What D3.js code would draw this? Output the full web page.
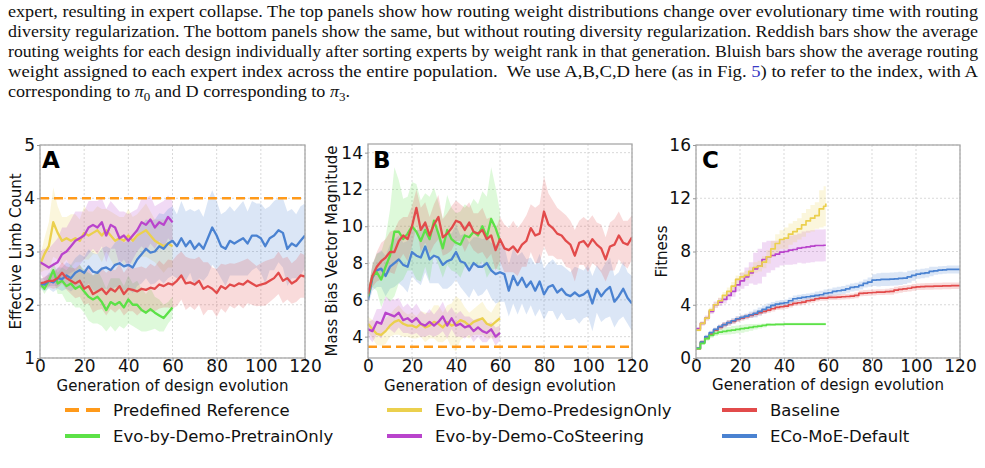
<!DOCTYPE html>
<html>
<head>
<meta charset="utf-8">
<script src="https://cdn.jsdelivr.net/npm/d3@7"></script>
<style>
  body { margin: 0; background: #fff; }
  svg { display: block; }
  .cap { white-space: pre; }
</style>
</head>
<body>
<svg id="fig" width="985" height="468"></svg>
<script>
// caption text above the figure, split in pieces so the link / subscripts can be styled
const captionLines = [
  [['expert, resulting in expert collapse. The top panels show how routing weight distributions change over evolutionary time with routing']],
  [['diversity regularization. The bottom panels show the same, but without routing diversity regularization. Reddish bars show the average']],
  [['routing weights for each design individually after sorting experts by weight rank in that generation. Bluish bars show the average routing']],
  [['weight assigned to each expert index across the entire population.  We use A,B,C,D here (as in Fig. '], ['5', 'link'], [') to refer to the index, with A']],
  [['corresponding to '], ['π', 'it'], ['0', 'sub'], [' and D corresponding to '], ['π', 'it'], ['3', 'sub'], ['.']]
]

const xTicks = [0, 20, 40, 60, 80, 100, 120]
const limbTicks = [1, 2, 3, 4, 5]
const massTicks = [4, 6, 8, 10, 12, 14]
const fitTicks = [0, 4, 8, 12, 16]
const genStep = 2

const legendNames = ['Predefined Reference', 'Evo-by-Demo-PretrainOnly', 'Evo-by-Demo-PredesignOnly',
  'Evo-by-Demo-CoSteering', 'Baseline', 'ECo-MoE-Default']
const colReference = '#ff9a1a'
const colPretrain = '#5ce147'
const colPredesign = '#ebd04e'
const colCoSteer = '#b944cc'
const colBaseline = '#e24b4b'
const colDefault = '#4a82d1'
const legendColors = [colReference, colPretrain, colPredesign, colCoSteer, colBaseline, colDefault]

// ---- panel A: effective limb count (values every 2 generations)
const limbReference = 4.0
const limbPredesign = [2.75, 2.95, 3.1, 3.55, 3.35, 3.2, 3.25, 3.2, 3.25, 3.2,
  3.35, 3.3, 3.35, 3.4, 3.3, 3.4, 3.3, 3.2, 3.25, 3.2,
  3.3, 3.2, 3.3, 3.35, 3.4, 3.3, 3.2, 3.15, 3.1, 3.15, 3.1]
const limbPredesignSd = [0.15, 0.3, 0.45, 0.65, 0.5, 0.45, 0.4, 0.5, 0.45, 0.4,
  0.5, 0.45, 0.4, 0.45, 0.5, 0.4, 0.45, 0.5, 0.4, 0.45,
  0.5, 0.45, 0.4, 0.45, 0.5, 0.45, 0.4, 0.45, 0.5, 0.45, 0.4]
const limbCoSteer = [2.8, 2.75, 2.7, 2.75, 2.8, 2.95, 3.0, 3.1, 3.2, 3.25,
  3.3, 3.45, 3.5, 3.45, 3.55, 3.3, 3.5, 3.45, 3.25, 3.3,
  3.2, 3.3, 3.4, 3.55, 3.5, 3.6, 3.45, 3.55, 3.5, 3.65, 3.55]
const limbCoSteerSd = [0.2, 0.3, 0.35, 0.4, 0.45, 0.5, 0.45, 0.5, 0.55, 0.5,
  0.45, 0.5, 0.45, 0.5, 0.45, 0.5, 0.45, 0.4, 0.5, 0.45,
  0.5, 0.45, 0.4, 0.45, 0.5, 0.45, 0.4, 0.35, 0.45, 0.4, 0.4]
const limbPretrain = [2.4, 2.3, 2.45, 2.65, 2.4, 2.45, 2.35, 2.4, 2.3, 2.35,
  2.25, 2.15, 2.1, 2.15, 2.05, 1.9, 2.05, 2.0, 2.05, 1.95,
  2.1, 2.0, 2.0, 1.9, 1.85, 1.92, 1.85, 1.8, 1.75, 1.85, 1.95]
const limbPretrainSd = [0.05, 0.1, 0.12, 0.15, 0.2, 0.25, 0.3, 0.35, 0.35, 0.4,
  0.4, 0.45, 0.45, 0.5, 0.45, 0.4, 0.45, 0.5, 0.45, 0.4,
  0.45, 0.4, 0.45, 0.4, 0.35, 0.4, 0.3, 0.3, 0.25, 0.2, 0.2]
const limbDefault = [2.4, 2.38, 2.45, 2.42, 2.5, 2.48, 2.55, 2.5, 2.6, 2.65,
  2.6, 2.72, 2.62, 2.6, 2.68, 2.7, 2.65, 2.75, 2.78, 2.72,
  2.75, 2.7, 2.85, 2.95, 3.05, 2.98, 3.0, 3.1, 3.05, 3.15,
  3.2, 3.1, 3.25, 3.1, 3.2, 3.05, 3.15, 3.05, 3.25, 3.45,
  3.3, 3.1, 3.05, 3.2, 3.15, 3.2, 3.25, 3.15, 3.3, 3.3,
  3.25, 3.1, 3.25, 3.3, 3.4, 3.35, 3.05, 3.15, 3.1, 3.2, 3.3]
const limbDefaultSd = [0.1, 0.12, 0.15, 0.18, 0.2, 0.22, 0.25, 0.25, 0.28, 0.3,
  0.3, 0.32, 0.35, 0.35, 0.38, 0.4, 0.4, 0.42, 0.45, 0.45,
  0.45, 0.48, 0.5, 0.55, 0.55, 0.6, 0.6, 0.62, 0.65, 0.65,
  0.65, 0.6, 0.7, 0.65, 0.6, 0.7, 0.65, 0.6, 0.7, 0.7,
  0.65, 0.6, 0.7, 0.65, 0.6, 0.65, 0.7, 0.6, 0.65, 0.6,
  0.65, 0.7, 0.6, 0.65, 0.6, 0.65, 0.7, 0.65, 0.6, 0.65, 0.6]
const limbBaseline = [2.4, 2.42, 2.45, 2.45, 2.5, 2.6, 2.5, 2.45, 2.4, 2.45,
  2.3, 2.35, 2.2, 2.25, 2.3, 2.2, 2.3, 2.25, 2.35, 2.2,
  2.3, 2.28, 2.25, 2.3, 2.28, 2.32, 2.3, 2.38, 2.35, 2.4,
  2.38, 2.45, 2.55, 2.4, 2.42, 2.38, 2.45, 2.3, 2.35, 2.3,
  2.22, 2.35, 2.3, 2.38, 2.35, 2.4, 2.38, 2.45, 2.4, 2.35,
  2.38, 2.4, 2.45, 2.5, 2.6, 2.45, 2.5, 2.4, 2.45, 2.55, 2.53]
const limbBaselineSd = [0.08, 0.1, 0.12, 0.15, 0.18, 0.2, 0.22, 0.25, 0.28, 0.3,
  0.3, 0.32, 0.35, 0.35, 0.38, 0.4, 0.38, 0.4, 0.42, 0.4,
  0.42, 0.4, 0.45, 0.42, 0.4, 0.45, 0.42, 0.45, 0.4, 0.45,
  0.45, 0.48, 0.45, 0.5, 0.45, 0.48, 0.45, 0.5, 0.45, 0.4,
  0.45, 0.42, 0.45, 0.4, 0.42, 0.4, 0.45, 0.42, 0.4, 0.38,
  0.4, 0.42, 0.4, 0.38, 0.4, 0.42, 0.4, 0.38, 0.4, 0.42, 0.4]

// ---- panel B: mass bias vector magnitude
const massReference = 3.45
const massPredesign = [4.7, 4.4, 4.15, 4.1, 4.3, 4.6, 4.8, 4.9, 4.7, 4.6,
  4.6, 4.5, 4.7, 4.5, 4.6, 4.8, 4.7, 4.5, 4.8, 4.6,
  4.7, 4.9, 4.8, 4.6, 4.8, 4.9, 5.0, 4.7, 4.6, 4.8, 5.0]
const massPredesignSd = [0.4, 0.5, 0.6, 0.6, 0.7, 0.6, 0.7, 0.8, 0.7, 0.6,
  0.7, 0.6, 0.7, 0.8, 0.7, 0.9, 1.0, 0.8, 0.9, 1.2,
  1.5, 1.1, 0.8, 0.7, 0.7, 0.8, 0.9, 0.8, 0.7, 0.9, 1.0]
const massCoSteer = [4.4, 4.3, 4.8, 4.7, 5.3, 5.2, 5.1, 5.3, 4.9, 5.0,
  4.8, 5.0, 4.7, 4.6, 4.8, 4.6, 4.8, 5.1, 4.6, 5.0,
  4.6, 4.7, 4.5, 4.6, 4.3, 4.5, 4.3, 4.2, 4.4, 4.0, 4.2]
const massCoSteerSd = [0.4, 0.6, 0.7, 0.8, 0.9, 0.8, 0.9, 0.8, 0.7, 0.8,
  0.7, 0.8, 0.7, 0.6, 0.7, 0.6, 0.7, 0.8, 0.7, 0.6,
  0.6, 0.7, 0.6, 0.5, 0.6, 0.5, 0.6, 0.5, 0.4, 0.5, 0.4]
const massPretrain = [6.2, 7.3, 7.5, 7.1, 7.8, 8.4, 9.7, 9.7, 9.3, 9.6,
  10.0, 9.7, 9.2, 9.8, 9.3, 10.3, 9.6, 8.8, 9.8, 9.3,
  9.1, 9.0, 9.5, 9.4, 9.7, 9.5, 10.0, 9.4, 10.4, 9.9, 9.2]
const massPretrainSd = [0.3, 0.6, 1.0, 1.5, 1.6, 2.5, 3.5, 2.8, 2.2, 2.0,
  2.4, 2.6, 2.2, 2.0, 2.3, 1.8, 1.7, 1.6, 1.9, 1.7,
  1.6, 1.8, 1.7, 1.6, 1.8, 1.7, 1.9, 2.2, 2.8, 2.2, 1.6]
const massDefault = [6.0, 7.2, 7.6, 7.7, 7.3, 7.8, 8.0, 8.2, 7.9, 7.8,
  8.6, 8.4, 8.3, 8.9, 8.2, 8.4, 8.3, 7.9, 8.1, 8.2,
  8.6, 8.1, 8.0, 7.6, 8.0, 7.8, 7.8, 8.0, 7.6, 7.4,
  7.5, 7.4, 6.5, 7.3, 6.8, 7.2, 6.7, 7.0, 6.5, 7.0,
  6.3, 6.7, 6.8, 6.4, 6.6, 6.3, 6.2, 6.4, 6.2, 6.3,
  6.5, 5.8, 6.6, 6.2, 6.5, 6.7, 5.9, 6.2, 6.6, 6.1, 5.8]
const massDefaultSd = [0.3, 0.7, 0.9, 1.0, 1.1, 1.2, 1.3, 1.3, 1.2, 1.4,
  1.3, 1.4, 1.5, 1.4, 1.3, 1.5, 1.4, 1.3, 1.5, 1.4,
  1.5, 1.4, 1.6, 1.5, 1.4, 1.6, 1.5, 1.4, 1.5, 1.6,
  1.6, 1.5, 1.4, 1.5, 1.6, 1.4, 1.5, 1.3, 1.4, 1.5,
  1.4, 1.3, 1.4, 1.5, 1.3, 1.4, 1.3, 1.4, 1.5, 1.3,
  1.4, 1.5, 1.3, 1.4, 1.5, 1.6, 1.4, 1.3, 1.5, 1.4, 1.5]
const massBaseline = [6.3, 7.3, 7.8, 8.1, 8.3, 8.6, 8.6, 9.2, 9.5, 9.3,
  10.0, 11.0, 9.8, 10.2, 9.5, 10.1, 10.5, 9.4, 9.6, 9.9,
  10.3, 10.2, 9.8, 10.2, 9.7, 9.6, 9.8, 9.3, 9.5, 8.7,
  9.3, 8.8, 8.7, 8.9, 8.6, 9.0, 9.2, 9.9, 9.5, 9.6,
  10.8, 10.1, 9.9, 9.6, 9.5, 9.2, 9.0, 8.4, 9.1, 9.2,
  8.9, 9.3, 9.0, 8.8, 8.2, 8.9, 9.0, 9.5, 9.1, 9.0, 9.4]
const massBaselineSd = [0.3, 0.6, 0.8, 1.0, 1.0, 1.1, 1.2, 1.1, 1.0, 1.2,
  1.1, 1.0, 1.2, 1.1, 1.0, 1.1, 1.2, 1.0, 1.1, 1.2,
  1.1, 1.0, 1.2, 1.1, 1.0, 1.1, 1.2, 1.1, 1.0, 1.1,
  1.2, 1.3, 1.2, 1.4, 1.3, 1.2, 1.4, 1.3, 1.5, 1.6,
  1.9, 1.7, 1.5, 1.4, 1.3, 1.4, 1.3, 1.4, 1.2, 1.3,
  1.4, 1.3, 1.2, 1.3, 1.2, 1.3, 1.4, 1.3, 1.2, 1.3, 1.2]

// ---- panel C: fitness (best so far, step curves)
const fitPredesign = [2.1, 2.6, 3.0, 3.6, 4.0, 4.3, 4.7, 5.0, 5.4, 5.9,
  6.1, 6.2, 6.5, 6.8, 6.9, 7.2, 7.6, 8.2, 8.6, 8.9,
  9.0, 9.3, 9.5, 9.7, 10.0, 10.3, 10.5, 10.7, 11.2, 11.4, 11.6]
const fitPredesignSd = [0.1, 0.15, 0.15, 0.2, 0.2, 0.25, 0.25, 0.3, 0.3, 0.3,
  0.35, 0.35, 0.35, 0.4, 0.4, 0.45, 0.5, 0.6, 0.7, 0.7,
  0.8, 0.8, 0.8, 0.8, 0.9, 0.9, 1.0, 1.0, 1.4, 1.5, 1.4]
const fitCoSteer = [2.2, 2.6, 3.0, 3.5, 4.0, 4.2, 4.4, 4.7, 5.0, 5.5,
  5.8, 6.1, 6.4, 6.7, 6.9, 7.4, 7.6, 7.7, 7.8, 7.95,
  8.0, 8.1, 8.15, 8.25, 8.3, 8.35, 8.4, 8.45, 8.45, 8.47, 8.47]
const fitCoSteerSd = [0.1, 0.15, 0.2, 0.2, 0.25, 0.3, 0.3, 0.35, 0.4, 0.5,
  0.6, 0.7, 0.8, 1.2, 1.3, 1.3, 1.2, 1.1, 1.0, 1.0,
  1.0, 1.1, 1.1, 1.1, 1.2, 1.2, 1.2, 1.2, 1.2, 1.2, 1.2]
const fitPretrain = [0.7, 1.1, 1.45, 1.7, 1.85, 1.95, 2.0, 2.05, 2.1, 2.15,
  2.2, 2.25, 2.3, 2.35, 2.4, 2.45, 2.5, 2.5, 2.52, 2.53,
  2.55, 2.55, 2.55, 2.55, 2.55, 2.55, 2.55, 2.55, 2.55, 2.55, 2.55]
const fitPretrainSd = [0.1, 0.12, 0.15, 0.18, 0.2, 0.22, 0.25, 0.28, 0.3, 0.3,
  0.3, 0.28, 0.25, 0.2, 0.18, 0.15, 0.12, 0.1, 0.1, 0.1,
  0.1, 0.1, 0.1, 0.1, 0.1, 0.1, 0.1, 0.1, 0.1, 0.1, 0.1]
const fitDefault = [0.75, 1.2, 1.6, 1.9, 2.15, 2.35, 2.5, 2.65, 2.8, 2.95,
  3.05, 3.15, 3.25, 3.35, 3.5, 3.65, 3.8, 3.95, 4.05, 4.1,
  4.15, 4.3, 4.45, 4.5, 4.55, 4.6, 4.65, 4.7, 4.75, 4.85,
  4.9, 5.0, 5.05, 5.1, 5.2, 5.3, 5.35, 5.45, 5.6, 5.7,
  5.85, 5.87, 5.9, 5.9, 5.92, 5.95, 5.98, 6.0, 6.1, 6.2,
  6.3, 6.35, 6.4, 6.5, 6.55, 6.6, 6.62, 6.65, 6.65, 6.65, 6.65]
const fitDefaultSd = [0.1, 0.12, 0.15, 0.15, 0.15, 0.15, 0.2, 0.2, 0.2, 0.2,
  0.2, 0.2, 0.25, 0.3, 0.3, 0.3, 0.3, 0.25, 0.25, 0.25,
  0.25, 0.25, 0.25, 0.25, 0.25, 0.25, 0.25, 0.3, 0.3, 0.3,
  0.3, 0.3, 0.3, 0.3, 0.3, 0.3, 0.3, 0.3, 0.3, 0.35,
  0.45, 0.5, 0.5, 0.5, 0.5, 0.5, 0.5, 0.45, 0.45, 0.4,
  0.35, 0.35, 0.35, 0.35, 0.3, 0.3, 0.3, 0.3, 0.3, 0.3, 0.3]
const fitBaseline = [0.7, 1.2, 1.5, 1.8, 2.1, 2.3, 2.5, 2.65, 2.75, 2.9,
  3.0, 3.1, 3.2, 3.3, 3.4, 3.5, 3.6, 3.7, 3.8, 3.85,
  3.9, 4.0, 4.1, 4.15, 4.2, 4.3, 4.35, 4.45, 4.5, 4.5,
  4.55, 4.55, 4.58, 4.6, 4.62, 4.65, 4.7, 4.85, 4.88, 4.9,
  4.92, 4.95, 4.95, 4.98, 5.0, 5.1, 5.16, 5.2, 5.24, 5.3,
  5.35, 5.36, 5.38, 5.38, 5.4, 5.4, 5.42, 5.42, 5.43, 5.43, 5.45]
const fitBaselineSd = [0.1, 0.15, 0.15, 0.15, 0.15, 0.2, 0.2, 0.2, 0.2, 0.2,
  0.2, 0.2, 0.2, 0.2, 0.2, 0.2, 0.2, 0.2, 0.2, 0.2,
  0.2, 0.2, 0.2, 0.2, 0.2, 0.2, 0.2, 0.2, 0.2, 0.2,
  0.2, 0.2, 0.2, 0.2, 0.2, 0.2, 0.22, 0.22, 0.22, 0.22,
  0.22, 0.22, 0.22, 0.22, 0.25, 0.25, 0.25, 0.25, 0.25, 0.25,
  0.25, 0.25, 0.25, 0.25, 0.25, 0.25, 0.25, 0.25, 0.25, 0.25, 0.25]

const svg = d3.select('#fig')
const tickFont = 17
const labelFont = 15

drawCaption()

drawPanel({
  id: 'A', left: 40, right: 305, top: 145, bottom: 358, domain: [1, 5], ticks: limbTicks,
  label: 'Effective Limb Count', labelX: 16, letterX: 42, xLabelY: 391,
  reference: limbReference, stepped: false, width: 2.3, end: 60,
  series: [
    [limbPredesign, limbPredesignSd, colPredesign],
    [limbCoSteer, limbCoSteerSd, colCoSteer],
    [limbPretrain, limbPretrainSd, colPretrain],
    [limbDefault, limbDefaultSd, colDefault],
    [limbBaseline, limbBaselineSd, colBaseline]
  ]
})

drawPanel({
  id: 'B', left: 368, right: 632, top: 144, bottom: 358, domain: [2.84, 14.47], ticks: massTicks,
  label: 'Mass Bias Vector Magnitude', labelX: 332, letterX: 373, xLabelY: 391,
  reference: massReference, stepped: false, width: 2.3, end: 60,
  series: [
    [massPredesign, massPredesignSd, colPredesign],
    [massCoSteer, massCoSteerSd, colCoSteer],
    [massDefault, massDefaultSd, colDefault],
    [massPretrain, massPretrainSd, colPretrain],
    [massBaseline, massBaselineSd, colBaseline]
  ]
})

drawPanel({
  id: 'C', left: 696, right: 960, top: 145, bottom: 358, domain: [0, 16], ticks: fitTicks,
  label: 'Fitness', labelX: 662, letterX: 702, xLabelY: 390,
  reference: null, stepped: true, width: 1.7, end: 59,
  series: [
    [fitBaseline, fitBaselineSd, colBaseline],
    [fitDefault, fitDefaultSd, colDefault],
    [fitPretrain, fitPretrainSd, colPretrain],
    [fitCoSteer, fitCoSteerSd, colCoSteer],
    [fitPredesign, fitPredesignSd, colPredesign]
  ]
})

drawLegend()

function drawCaption() {
  const g = svg.append('g')
    .attr('font-family', '"Liberation Serif", "Times New Roman", serif')
    .attr('font-size', 16.7)
    .attr('fill', '#111')

  const texts = captionLines.map((pieces, i) => {
    const t = g.append('text')
      .attr('class', 'cap')
      .attr('x', 8)
      .attr('y', 17 + i * 20)
    pieces.forEach(([str, kind], j) => {
      const prev = j > 0 ? pieces[j - 1][1] : null
      const sp = t.append('tspan').text(str)
      if (kind === 'link') sp.attr('fill', '#3a3ac4')
      if (kind === 'it') sp.attr('font-style', 'italic')
      if (kind === 'sub') sp.attr('font-size', 12).attr('dy', 3.5)
      if (prev === 'sub') sp.attr('dy', -3.5)
    })
    return t
  })

  // justify the full lines, squeeze the last one by the same average amount
  const widths = texts.map(t => t.node().getComputedTextLength())
  const ratio = d3.mean(widths.slice(0, 4), w => 970 / w)
  texts.forEach((t, i) => {
    const len = i < 4 ? 970 : widths[i] * ratio
    t.attr('textLength', len).attr('lengthAdjust', 'spacingAndGlyphs')
  })
}

function drawPanel(p) {
  const x = d3.scaleLinear().domain([0, 120]).range([p.left, p.right])
  const y = d3.scaleLinear().domain(p.domain).range([p.bottom, p.top])
  const g = svg.append('g')

  g.append('clipPath')
    .attr('id', 'clip' + p.id)
    .append('rect')
    .attr('x', p.left)
    .attr('y', p.top)
    .attr('width', p.right - p.left)
    .attr('height', p.bottom - p.top)

  // dotted grid
  g.selectAll('.vgrid')
    .data(xTicks)
    .join('line')
    .attr('x1', d => x(d)).attr('x2', d => x(d))
    .attr('y1', p.top).attr('y2', p.bottom)
    .attr('stroke', '#cfcfcf').attr('stroke-width', 0.8).attr('stroke-dasharray', '2,2')
  g.selectAll('.hgrid')
    .data(p.ticks)
    .join('line')
    .attr('x1', p.left).attr('x2', p.right)
    .attr('y1', d => y(d)).attr('y2', d => y(d))
    .attr('stroke', '#cfcfcf').attr('stroke-width', 0.8).attr('stroke-dasharray', '2,2')

  const curve = p.stepped ? d3.curveStepAfter : d3.curveLinear
  const plot = g.append('g').attr('clip-path', 'url(#clip' + p.id + ')')

  const seriesPts = p.series.map(([mean, sd, color]) => {
    const last = mean.length > 31 ? 120 : p.end
    return {
      color,
      pts: mean.map((v, i) => ({ g: Math.min(i * genStep, last), v, sd: sd[i] }))
    }
  })

  const area = d3.area()
    .x(d => x(d.g))
    .y0(d => y(d.v - d.sd))
    .y1(d => y(d.v + d.sd))
    .curve(curve)
  const line = d3.line()
    .x(d => x(d.g))
    .y(d => y(d.v))
    .curve(curve)

  plot.selectAll('.band')
    .data(seriesPts)
    .join('path')
    .attr('d', d => area(d.pts))
    .attr('fill', d => d.color)
    .attr('fill-opacity', 0.2)

  plot.selectAll('.mean')
    .data(seriesPts)
    .join('path')
    .attr('d', d => line(d.pts))
    .attr('fill', 'none')
    .attr('stroke', d => d.color)
    .attr('stroke-width', p.width)
    .attr('stroke-linejoin', 'round')

  if (p.reference !== null) {
    plot.append('line')
      .attr('x1', x(0)).attr('x2', x(120))
      .attr('y1', y(p.reference)).attr('y2', y(p.reference))
      .attr('stroke', colReference).attr('stroke-width', 2.4)
      .attr('stroke-dasharray', '9,5')
  }

  // frame
  g.append('rect')
    .attr('x', p.left).attr('y', p.top)
    .attr('width', p.right - p.left).attr('height', p.bottom - p.top)
    .attr('fill', 'none').attr('stroke', '#a8a8a8').attr('stroke-width', 1.3)

  const fmt = d3.format('d')
  const xAxis = g.append('g')
    .attr('transform', `translate(0,${p.bottom})`)
    .call(d3.axisBottom(x).tickValues(xTicks).tickFormat(fmt)
      .tickSize(3).tickSizeOuter(0).tickPadding(-1))
  const yAxis = g.append('g')
    .attr('transform', `translate(${p.left},0)`)
    .call(d3.axisLeft(y).tickValues(p.ticks).tickFormat(fmt)
      .tickSize(3).tickSizeOuter(0).tickPadding(2))

  ;[xAxis, yAxis].forEach(a => {
    a.select('.domain').remove()
    a.selectAll('line').attr('stroke', '#999')
    a.selectAll('text')
      .attr('font-family', '"DejaVu Sans", sans-serif')
      .attr('font-size', tickFont)
      .attr('fill', '#111')
  })

  g.append('text')
    .attr('x', (p.left + p.right) / 2)
    .attr('y', p.xLabelY)
    .attr('text-anchor', 'middle')
    .attr('font-family', '"DejaVu Sans", sans-serif')
    .attr('font-size', labelFont)
    .attr('fill', '#111')
    .text('Generation of design evolution')

  g.append('text')
    .attr('transform', `translate(${p.labelX},${(p.top + p.bottom) / 2}) rotate(-90)`)
    .attr('dy', '0.35em')
    .attr('text-anchor', 'middle')
    .attr('font-family', '"DejaVu Sans", sans-serif')
    .attr('font-size', labelFont)
    .attr('fill', '#111')
    .text(p.label)

  g.append('text')
    .attr('x', p.letterX)
    .attr('y', 168)
    .attr('font-family', '"DejaVu Sans", sans-serif')
    .attr('font-weight', 'bold')
    .attr('font-size', 23)
    .attr('fill', '#000')
    .text(p.id)
}

function drawLegend() {
  const colX = [65, 387, 722]
  const rowY = [410, 436]
  const items = legendNames.map((name, i) => ({
    name,
    color: legendColors[i],
    dashed: i === 0,
    x: colX[Math.floor(i / 2)],
    y: rowY[i % 2]
  }))

  const g = svg.append('g')
  const item = g.selectAll('g')
    .data(items)
    .join('g')
    .attr('transform', d => `translate(${d.x},${d.y})`)

  item.append('line')
    .attr('x1', 0).attr('x2', 35)
    .attr('stroke', d => d.color)
    .attr('stroke-width', 3.8)
    .attr('stroke-dasharray', d => d.dashed ? '14,7' : null)

  item.append('text')
    .attr('x', 48)
    .attr('dy', '0.36em')
    .attr('font-family', '"DejaVu Sans", sans-serif')
    .attr('font-size', 16.5)
    .attr('fill', '#111')
    .text(d => d.name)
}
</script>
</body>
</html>
